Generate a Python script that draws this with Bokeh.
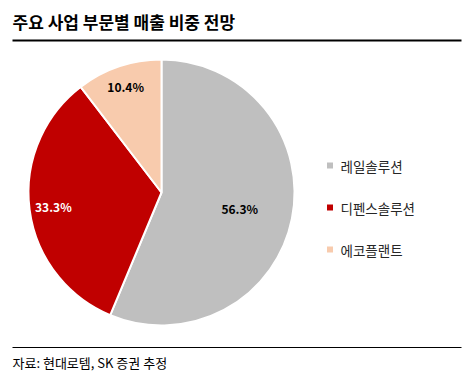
import math
from bokeh.plotting import figure
from bokeh.models import Range1d, ColumnDataSource
from bokeh.core.properties import value
from bokeh.embed import file_html
from bokeh.resources import INLINE

# ---- data ----
title_text = "주요 사업 부문별 매출 비중 전망"
source_text = "자료: 현대로템, SK 증권 추정"
categories = ["레일솔루션", "디펜스솔루션", "에코플랜트"]
shares = [56.3, 33.3, 10.4]
colors = ["#BFBFBF", "#C00000", "#F8CBAD"]
label_colors = ["#000000", "#FFFFFF", "#000000"]
label_radius_frac = [0.60, 0.82, 0.84]

W, H = 469, 384
FONT = "Noto Sans CJK KR"


def Y(py):
    return H - py


p = figure(width=W, height=H, output_backend="svg", toolbar_location=None,
           x_range=Range1d(0, W), y_range=Range1d(0, H), min_border=0)
p.axis.visible = False
p.grid.visible = False
p.outline_line_color = None
p.background_fill_color = "white"
p.border_fill_color = "white"

# pie
cx, cy, R = 161, Y(192), 133
total = sum(shares)
starts, ends, lx, ly = [], [], [], []
a = math.pi / 2
for s, f in zip(shares, label_radius_frac):
    sweep = s / total * 2 * math.pi
    starts.append(a)
    ends.append(a - sweep)
    mid = a - sweep / 2
    lx.append(cx + f * R * math.cos(mid))
    ly.append(cy + f * R * math.sin(mid))
    a -= sweep

src = ColumnDataSource(dict(start=starts, end=ends, color=colors,
                            lx=lx, ly=ly,
                            lab=[f"{s:.1f}%" for s in shares],
                            lc=label_colors))
p.wedge(x=cx, y=cy, radius=R, start_angle="start", end_angle="end",
        direction="clock", fill_color="color", line_color="white",
        line_width=2, source=src)
p.text(x="lx", y="ly", text="lab", text_color="lc", source=src,
       text_font=value(FONT), text_font_size="12px", text_font_style="bold",
       text_align="center", text_baseline="middle")

# legend
leg_y = [Y(165), Y(207), Y(249)]
p.scatter(x=[329.5] * 3, y=leg_y, marker="square", size=6,
          fill_color=colors, line_color=None)
p.text(x=[340] * 3, y=leg_y, text=categories, text_color="#262626",
       text_font=value(FONT), text_font_size="13.5px",
       text_align="left", text_baseline="middle")

# title and lines
p.text(x=[12], y=[Y(21)], text=[title_text], text_color="#000000",
       text_font=value(FONT), text_font_size="17px", text_font_style="bold",
       text_align="left", text_baseline="middle")
p.segment(x0=[12], y0=[Y(40)], x1=[461], y1=[Y(40)],
          line_color="black", line_width=2)
p.segment(x0=[12], y0=[Y(347)], x1=[461], y1=[Y(347)],
          line_color="black", line_width=1)
p.text(x=[12], y=[Y(362)], text=[source_text], text_color="#000000",
       text_font=value(FONT), text_font_size="13px",
       text_align="left", text_baseline="middle")

open("out.html", "w").write(file_html(p, INLINE))
